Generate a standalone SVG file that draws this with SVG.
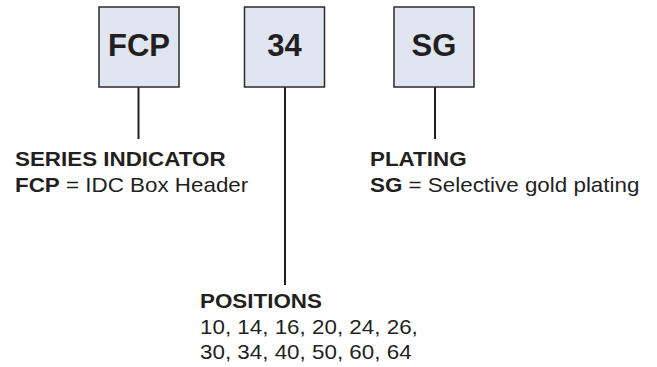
<svg xmlns="http://www.w3.org/2000/svg" width="657" height="367" viewBox="0 0 657 367">
<style>
.box{fill:#dfe6f1;stroke:#2b2b2b;stroke-width:1.5}
.code{font-family:"Liberation Sans",Arial,sans-serif;font-weight:bold;font-size:31px;fill:#231f20;text-anchor:middle}
.lbl{font-family:"Liberation Sans",Arial,sans-serif;font-size:20px;fill:#231f20}
.b{font-weight:bold}
.conn{stroke:#231f20;stroke-width:2;fill:none}
</style>
<rect width="657" height="367" fill="#ffffff"/>
<g id="connectors">
<line class="conn" x1="138.5" y1="87" x2="138.5" y2="139"/>
<line class="conn" x1="285" y1="87" x2="285" y2="285"/>
<line class="conn" x1="435" y1="87" x2="435" y2="139"/>
</g>
<g id="node-fcp">
<rect class="box" x="99" y="7" width="80" height="80"/>
<text class="code" x="139" y="56">FCP</text>
</g>
<g id="node-34">
<rect class="box" x="244.5" y="7" width="80" height="80"/>
<text class="code" x="284.5" y="56">34</text>
</g>
<g id="node-sg">
<rect class="box" x="394" y="7" width="80" height="80"/>
<text class="code" x="434" y="56">SG</text>
</g>
<g id="label-series" transform="translate(15,0) scale(1.12,1)">
<text class="lbl b" x="0" y="166">SERIES INDICATOR</text>
<text class="lbl" x="0" y="192"><tspan class="b">FCP</tspan> = IDC Box Header</text>
</g>
<g id="label-plating" transform="translate(370,0) scale(1.12,1)">
<text class="lbl b" x="0" y="166">PLATING</text>
<text class="lbl" x="0" y="192"><tspan class="b">SG</tspan> = Selective gold plating</text>
</g>
<g id="label-positions" transform="translate(200,0) scale(1.12,1)">
<text class="lbl b" x="0" y="308">POSITIONS</text>
<text class="lbl" x="0" y="334">10, 14, 16, 20, 24, 26,</text>
<text class="lbl" x="0" y="359">30, 34, 40, 50, 60, 64</text>
</g>
</svg>
